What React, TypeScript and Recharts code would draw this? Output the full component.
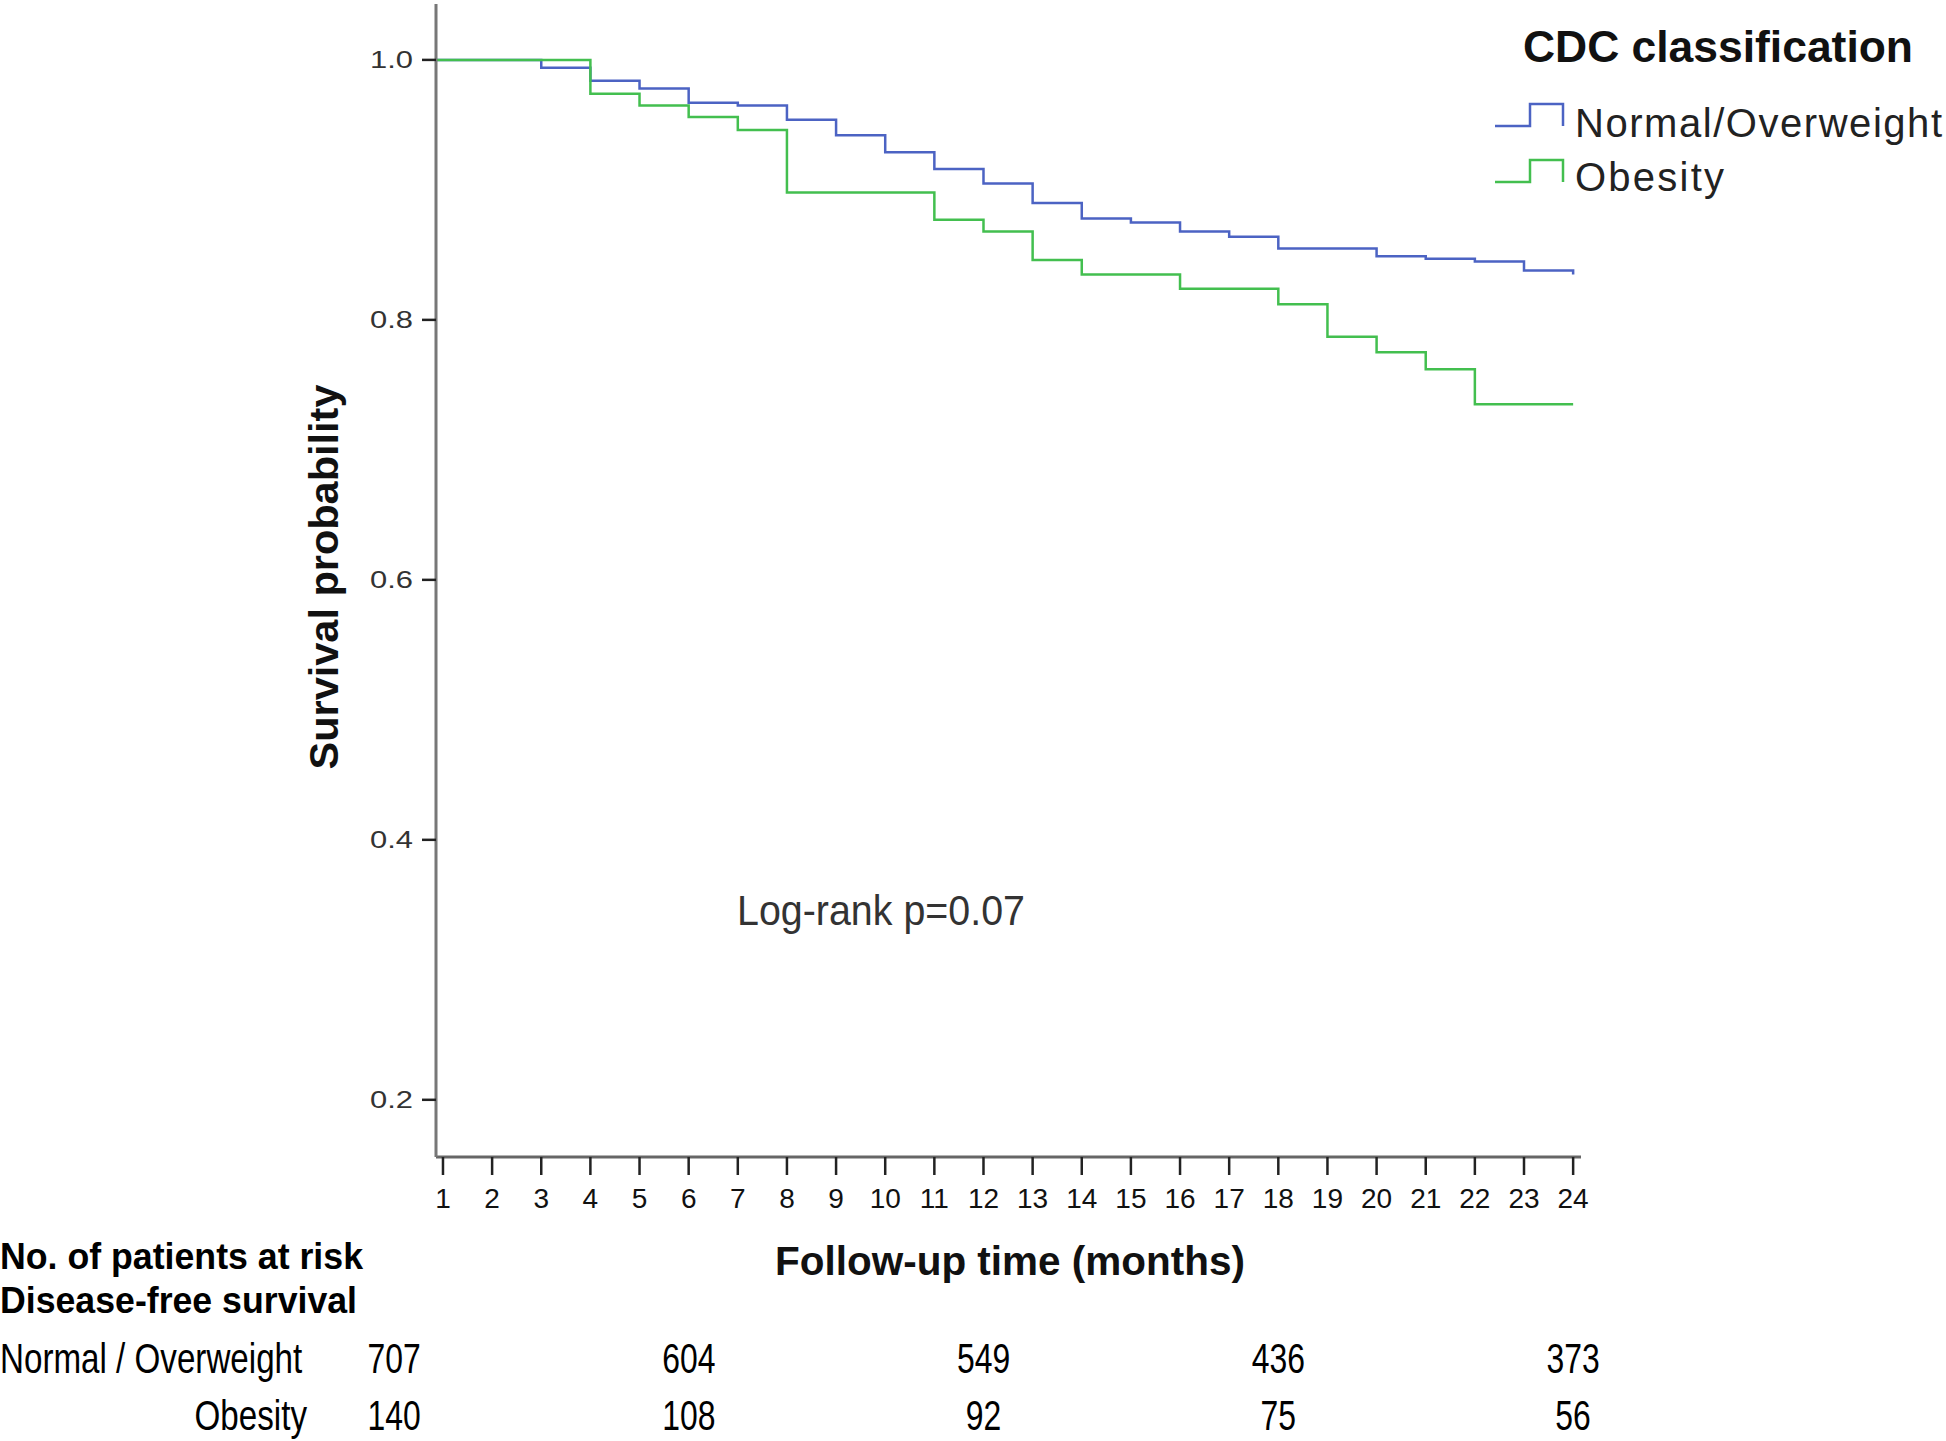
import { LineChart, Line, XAxis, YAxis, ScatterChart, Scatter } from 'recharts';

// Kaplan-Meier step values (months 0..24)
const months = [0, 1, 2, 3, 4, 5, 6, 7, 8, 9, 10, 11, 12, 13, 14, 15, 16, 17, 18, 19, 20, 21, 22, 23, 24];
const normalSurvival = [
  1.0, 1.0, 1.0, 0.994, 0.984, 0.978, 0.967, 0.965, 0.954, 0.942, 0.929, 0.916, 0.905,
  0.89, 0.878, 0.875, 0.868, 0.864, 0.855, 0.855, 0.849, 0.847, 0.845, 0.838, 0.835,
];
const obesitySurvival = [
  1.0, 1.0, 1.0, 1.0, 0.974, 0.965, 0.956, 0.946, 0.898, 0.898, 0.898, 0.877, 0.868,
  0.846, 0.835, 0.835, 0.824, 0.824, 0.812, 0.787, 0.775, 0.762, 0.735, 0.735, 0.735,
];

const xTicks = [1, 2, 3, 4, 5, 6, 7, 8, 9, 10, 11, 12, 13, 14, 15, 16, 17, 18, 19, 20, 21, 22, 23, 24];
const yTicks = [0.2, 0.4, 0.6, 0.8, 1.0];

const seriesNames = ['Normal/Overweight', 'Obesity'];
const seriesColors = ['#4c63c3', '#43bf4f'];

// numbers at risk
const riskMonths = [0, 6, 12, 18, 24];
const riskRowLabels = ['Normal / Overweight', 'Obesity'];
const normalAtRisk = [707, 604, 549, 436, 373];
const obesityAtRisk = [140, 108, 92, 75, 56];

const chartData = months.map((m, i) => ({ month: m, normal: normalSurvival[i], obesity: obesitySurvival[i] }));
const normalRiskData = riskMonths.map((t, i) => ({ t, row: 1, n: normalAtRisk[i] }));
const obesityRiskData = riskMonths.map((t, i) => ({ t, row: 0, n: obesityAtRisk[i] }));

const FONT = '"Liberation Sans", Arial, sans-serif';

const XTick = (props: any) => {
  const { x, y, payload } = props;
  return (
    <text x={x} y={y + 23} textAnchor="middle" fontSize={28} fill="#111" fontFamily={FONT}>
      {payload.value}
    </text>
  );
};

const YTick = (props: any) => {
  const { x, y, payload } = props;
  return (
    <text x={x} y={y + 8} textAnchor="end" fontSize={24} fill="#333" fontFamily={FONT} textLength={43} lengthAdjust="spacingAndGlyphs">
      {Number(payload.value).toFixed(1)}
    </text>
  );
};

const RiskText = (props: any) => {
  const n = props.payload?.n ?? props.n;
  return (
    <text transform={`translate(${props.cx},${props.cy}) scale(0.76,1)`} textAnchor="middle" fontSize={42} fill="#000" fontFamily={FONT}>
      {n}
    </text>
  );
};

const App = () => {
  return (
    <div style={{ position: 'absolute', left: 0, top: 0, width: 1946, height: 1441, background: '#fff', fontFamily: FONT, overflow: 'hidden' }}>
      <div style={{ position: 'absolute', left: 0, top: 0 }}>
        <LineChart width={1946} height={1240} data={chartData} margin={{ top: 4, right: 365, bottom: 0, left: 336 }}>
          <XAxis
            type="number"
            dataKey="month"
            domain={[0.858, 24.16]}
            allowDataOverflow
            ticks={xTicks}
            interval={0}
            height={83}
            tickSize={18}
            tickMargin={10}
            axisLine={{ stroke: '#666', strokeWidth: 3 }}
            tickLine={{ stroke: '#222', strokeWidth: 2.5 }}
            tick={<XTick />}
          />
          <YAxis
            type="number"
            domain={[0.156, 1.043]}
            allowDataOverflow
            ticks={yTicks}
            interval={0}
            width={100}
            tickSize={14}
            tickMargin={9}
            axisLine={{ stroke: '#777', strokeWidth: 3 }}
            tickLine={{ stroke: '#222', strokeWidth: 2.5 }}
            tick={<YTick />}
          />
          <Line type="stepAfter" dataKey="normal" name={seriesNames[0]} stroke={seriesColors[0]} strokeWidth={2.5} dot={false} isAnimationActive={false} />
          <Line type="stepAfter" dataKey="obesity" name={seriesNames[1]} stroke={seriesColors[1]} strokeWidth={2.5} dot={false} isAnimationActive={false} />
        </LineChart>
      </div>

      <div style={{ position: 'absolute', left: 0, top: 1310 }}>
        <ScatterChart width={1946} height={131} margin={{ top: 63, right: 373, bottom: 11, left: 394 }}>
          <XAxis type="number" dataKey="t" domain={[0, 24]} hide />
          <YAxis type="number" dataKey="row" domain={[0, 1]} hide />
          <Scatter data={normalRiskData} shape={<RiskText />} isAnimationActive={false} />
          <Scatter data={obesityRiskData} shape={<RiskText />} isAnimationActive={false} />
        </ScatterChart>
      </div>

      <svg width={1946} height={1441} style={{ position: 'absolute', left: 0, top: 0, pointerEvents: 'none' }} fontFamily={FONT}>
        {/* axis titles */}
        <text transform="translate(338,577) rotate(-90)" textAnchor="middle" fontSize={40} fontWeight="bold" fill="#111" textLength={385} lengthAdjust="spacingAndGlyphs">
          Survival probability
        </text>
        <text x={775} y={1275} fontSize={41} fontWeight="bold" fill="#111" textLength={470} lengthAdjust="spacingAndGlyphs">
          Follow-up time (months)
        </text>
        <text x={737} y={925} fontSize={42} fill="#333" textLength={288} lengthAdjust="spacingAndGlyphs">
          Log-rank p=0.07
        </text>

        {/* legend */}
        <text x={1523} y={62} fontSize={44} fontWeight="bold" fill="#111" textLength={390} lengthAdjust="spacingAndGlyphs">
          CDC classification
        </text>
        {seriesNames.map((name, i) => {
          const low = 126 + i * 56;
          const high = low - 22;
          const base = 137 + i * 54;
          return (
            <g key={name}>
              <path d={`M1495,${low} H1530 V${high} H1563 V${low}`} fill="none" stroke={seriesColors[i]} strokeWidth={2.5} />
              <text x={1575} y={base} fontSize={40} fill="#222" textLength={i === 0 ? 367 : 149} lengthAdjust="spacing">
                {name}
              </text>
            </g>
          );
        })}

        {/* risk table labels */}
        <text x={0} y={1269} fontSize={37} fontWeight="bold" fill="#000" textLength={363} lengthAdjust="spacingAndGlyphs">
          No. of patients at risk
        </text>
        <text x={0} y={1313} fontSize={37} fontWeight="bold" fill="#000" textLength={357} lengthAdjust="spacingAndGlyphs">
          Disease-free survival
        </text>
        <text transform="translate(0,1373) scale(0.79,1)" fontSize={42} fill="#000">
          {riskRowLabels[0]}
        </text>
        <text transform="translate(307,1430) scale(0.79,1)" textAnchor="end" fontSize={42} fill="#000">
          {riskRowLabels[1]}
        </text>
      </svg>
    </div>
  );
};

export default App;
